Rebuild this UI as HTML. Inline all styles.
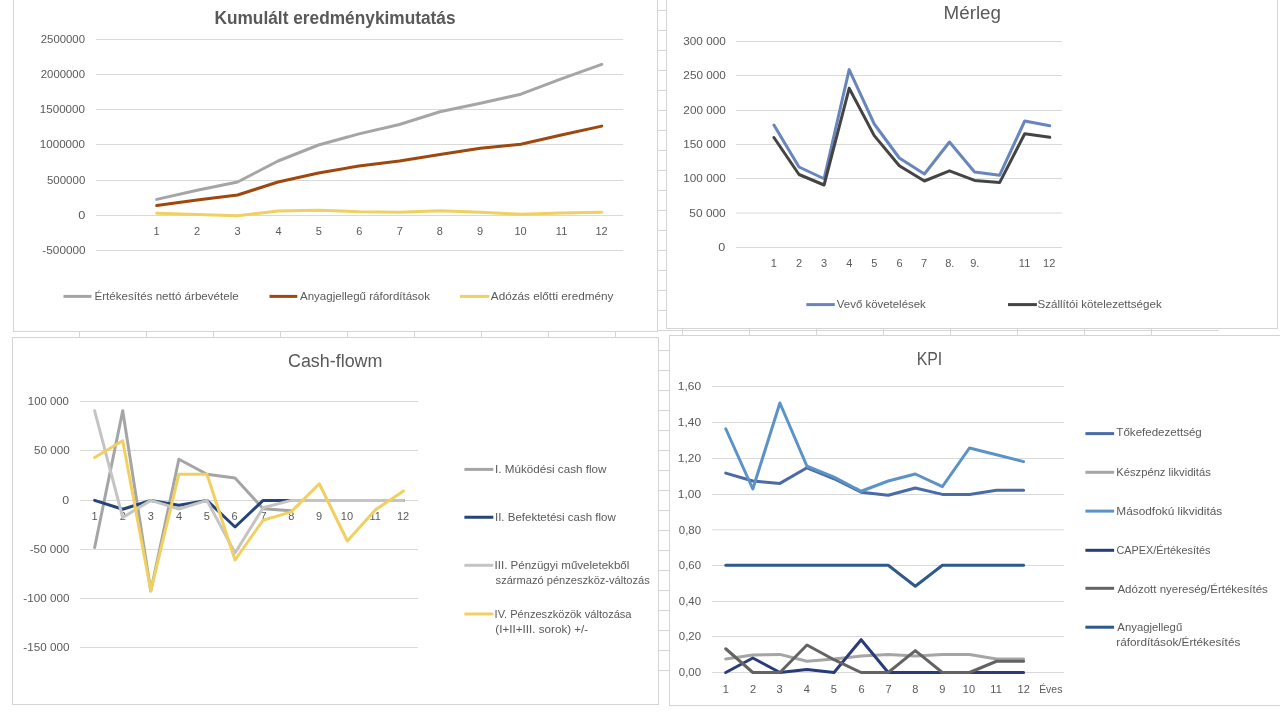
<!DOCTYPE html>
<html><head><meta charset="utf-8"><style>
html,body{margin:0;padding:0;background:#fff;width:1280px;height:720px;overflow:hidden}
svg{display:block}
text{font-family:"Liberation Sans",sans-serif;white-space:pre}
</style></head><body>
<svg width="1280" height="720" viewBox="0 0 1280 720">
<g class="sheet">
<line x1="13" y1="10.5" x2="1218.5" y2="10.5" stroke="#d6d6d6" stroke-width="1"/>
<line x1="13" y1="30.5" x2="1218.5" y2="30.5" stroke="#d6d6d6" stroke-width="1"/>
<line x1="13" y1="50.5" x2="1218.5" y2="50.5" stroke="#d6d6d6" stroke-width="1"/>
<line x1="13" y1="70.5" x2="1218.5" y2="70.5" stroke="#d6d6d6" stroke-width="1"/>
<line x1="13" y1="90.5" x2="1218.5" y2="90.5" stroke="#d6d6d6" stroke-width="1"/>
<line x1="13" y1="110.5" x2="1218.5" y2="110.5" stroke="#d6d6d6" stroke-width="1"/>
<line x1="13" y1="130.5" x2="1218.5" y2="130.5" stroke="#d6d6d6" stroke-width="1"/>
<line x1="13" y1="150.5" x2="1218.5" y2="150.5" stroke="#d6d6d6" stroke-width="1"/>
<line x1="13" y1="170.5" x2="1218.5" y2="170.5" stroke="#d6d6d6" stroke-width="1"/>
<line x1="13" y1="190.5" x2="1218.5" y2="190.5" stroke="#d6d6d6" stroke-width="1"/>
<line x1="13" y1="210.5" x2="1218.5" y2="210.5" stroke="#d6d6d6" stroke-width="1"/>
<line x1="13" y1="230.5" x2="1218.5" y2="230.5" stroke="#d6d6d6" stroke-width="1"/>
<line x1="13" y1="250.5" x2="1218.5" y2="250.5" stroke="#d6d6d6" stroke-width="1"/>
<line x1="13" y1="270.5" x2="1218.5" y2="270.5" stroke="#d6d6d6" stroke-width="1"/>
<line x1="13" y1="290.5" x2="1218.5" y2="290.5" stroke="#d6d6d6" stroke-width="1"/>
<line x1="13" y1="310.5" x2="1218.5" y2="310.5" stroke="#d6d6d6" stroke-width="1"/>
<line x1="13" y1="330.5" x2="1218.5" y2="330.5" stroke="#d6d6d6" stroke-width="1"/>
<line x1="13" y1="350.5" x2="1218.5" y2="350.5" stroke="#d6d6d6" stroke-width="1"/>
<line x1="13" y1="370.5" x2="1218.5" y2="370.5" stroke="#d6d6d6" stroke-width="1"/>
<line x1="13" y1="390.5" x2="1218.5" y2="390.5" stroke="#d6d6d6" stroke-width="1"/>
<line x1="13" y1="410.5" x2="1218.5" y2="410.5" stroke="#d6d6d6" stroke-width="1"/>
<line x1="13" y1="430.5" x2="1218.5" y2="430.5" stroke="#d6d6d6" stroke-width="1"/>
<line x1="13" y1="450.5" x2="1218.5" y2="450.5" stroke="#d6d6d6" stroke-width="1"/>
<line x1="13" y1="470.5" x2="1218.5" y2="470.5" stroke="#d6d6d6" stroke-width="1"/>
<line x1="13" y1="490.5" x2="1218.5" y2="490.5" stroke="#d6d6d6" stroke-width="1"/>
<line x1="13" y1="510.5" x2="1218.5" y2="510.5" stroke="#d6d6d6" stroke-width="1"/>
<line x1="13" y1="530.5" x2="1218.5" y2="530.5" stroke="#d6d6d6" stroke-width="1"/>
<line x1="13" y1="550.5" x2="1218.5" y2="550.5" stroke="#d6d6d6" stroke-width="1"/>
<line x1="13" y1="570.5" x2="1218.5" y2="570.5" stroke="#d6d6d6" stroke-width="1"/>
<line x1="13" y1="590.5" x2="1218.5" y2="590.5" stroke="#d6d6d6" stroke-width="1"/>
<line x1="13" y1="610.5" x2="1218.5" y2="610.5" stroke="#d6d6d6" stroke-width="1"/>
<line x1="13" y1="630.5" x2="1218.5" y2="630.5" stroke="#d6d6d6" stroke-width="1"/>
<line x1="13" y1="650.5" x2="1218.5" y2="650.5" stroke="#d6d6d6" stroke-width="1"/>
<line x1="13" y1="670.5" x2="1218.5" y2="670.5" stroke="#d6d6d6" stroke-width="1"/>
<line x1="79.5" y1="0" x2="79.5" y2="670.5" stroke="#d6d6d6" stroke-width="1"/>
<line x1="146.5" y1="0" x2="146.5" y2="670.5" stroke="#d6d6d6" stroke-width="1"/>
<line x1="213.5" y1="0" x2="213.5" y2="670.5" stroke="#d6d6d6" stroke-width="1"/>
<line x1="280.5" y1="0" x2="280.5" y2="670.5" stroke="#d6d6d6" stroke-width="1"/>
<line x1="347.5" y1="0" x2="347.5" y2="670.5" stroke="#d6d6d6" stroke-width="1"/>
<line x1="414.5" y1="0" x2="414.5" y2="670.5" stroke="#d6d6d6" stroke-width="1"/>
<line x1="481.5" y1="0" x2="481.5" y2="670.5" stroke="#d6d6d6" stroke-width="1"/>
<line x1="548.5" y1="0" x2="548.5" y2="670.5" stroke="#d6d6d6" stroke-width="1"/>
<line x1="615.5" y1="0" x2="615.5" y2="670.5" stroke="#d6d6d6" stroke-width="1"/>
<line x1="682.5" y1="0" x2="682.5" y2="670.5" stroke="#d6d6d6" stroke-width="1"/>
<line x1="749.5" y1="0" x2="749.5" y2="670.5" stroke="#d6d6d6" stroke-width="1"/>
<line x1="816.5" y1="0" x2="816.5" y2="670.5" stroke="#d6d6d6" stroke-width="1"/>
<line x1="883.5" y1="0" x2="883.5" y2="670.5" stroke="#d6d6d6" stroke-width="1"/>
<line x1="950.5" y1="0" x2="950.5" y2="670.5" stroke="#d6d6d6" stroke-width="1"/>
<line x1="1017.5" y1="0" x2="1017.5" y2="670.5" stroke="#d6d6d6" stroke-width="1"/>
<line x1="1084.5" y1="0" x2="1084.5" y2="670.5" stroke="#d6d6d6" stroke-width="1"/>
<line x1="1151.5" y1="0" x2="1151.5" y2="670.5" stroke="#d6d6d6" stroke-width="1"/>
</g>
<rect x="13.5" y="-4.5" width="644" height="336" fill="#fff" stroke="#d4d4d4" stroke-width="1"/>
<rect x="666.5" y="-4.5" width="611" height="333" fill="#fff" stroke="#d4d4d4" stroke-width="1"/>
<rect x="12.5" y="337.5" width="646" height="367" fill="#fff" stroke="#d4d4d4" stroke-width="1"/>
<rect x="669.5" y="335.5" width="621" height="370" fill="#fff" stroke="#d4d4d4" stroke-width="1"/>
<line x1="96" y1="39.5" x2="623" y2="39.5" stroke="#d9d9d9" stroke-width="1"/>
<line x1="96" y1="74.5" x2="623" y2="74.5" stroke="#d9d9d9" stroke-width="1"/>
<line x1="96" y1="109.5" x2="623" y2="109.5" stroke="#d9d9d9" stroke-width="1"/>
<line x1="96" y1="144.5" x2="623" y2="144.5" stroke="#d9d9d9" stroke-width="1"/>
<line x1="96" y1="180.5" x2="623" y2="180.5" stroke="#d9d9d9" stroke-width="1"/>
<line x1="96" y1="215.5" x2="623" y2="215.5" stroke="#d9d9d9" stroke-width="1"/>
<line x1="96" y1="250.5" x2="623" y2="250.5" stroke="#d9d9d9" stroke-width="1"/>
<line x1="63.5" y1="296.4" x2="91.5" y2="296.4" stroke="#a5a5a5" stroke-width="3"/>
<line x1="269.5" y1="296.4" x2="297.3" y2="296.4" stroke="#9e480e" stroke-width="3"/>
<line x1="460" y1="296.4" x2="489.4" y2="296.4" stroke="#f0d060" stroke-width="3"/>
<line x1="736" y1="41.5" x2="1062" y2="41.5" stroke="#d9d9d9" stroke-width="1"/>
<line x1="736" y1="75.5" x2="1062" y2="75.5" stroke="#d9d9d9" stroke-width="1"/>
<line x1="736" y1="110.5" x2="1062" y2="110.5" stroke="#d9d9d9" stroke-width="1"/>
<line x1="736" y1="144.5" x2="1062" y2="144.5" stroke="#d9d9d9" stroke-width="1"/>
<line x1="736" y1="178.5" x2="1062" y2="178.5" stroke="#d9d9d9" stroke-width="1"/>
<line x1="736" y1="213.0" x2="1062" y2="213.0" stroke="#d9d9d9" stroke-width="1"/>
<line x1="736" y1="247.5" x2="1062" y2="247.5" stroke="#d9d9d9" stroke-width="1"/>
<line x1="806.3" y1="304.6" x2="834.8" y2="304.6" stroke="#6886bc" stroke-width="3"/>
<line x1="1008" y1="304.6" x2="1036.9" y2="304.6" stroke="#444444" stroke-width="3"/>
<line x1="80" y1="401.5" x2="418" y2="401.5" stroke="#d9d9d9" stroke-width="1"/>
<line x1="80" y1="450.5" x2="418" y2="450.5" stroke="#d9d9d9" stroke-width="1"/>
<line x1="80" y1="500.5" x2="418" y2="500.5" stroke="#d9d9d9" stroke-width="1"/>
<line x1="80" y1="549.5" x2="418" y2="549.5" stroke="#d9d9d9" stroke-width="1"/>
<line x1="80" y1="598.5" x2="418" y2="598.5" stroke="#d9d9d9" stroke-width="1"/>
<line x1="80" y1="647.5" x2="418" y2="647.5" stroke="#d9d9d9" stroke-width="1"/>
<line x1="464.4" y1="469.4" x2="493.3" y2="469.4" stroke="#a5a5a5" stroke-width="3"/>
<line x1="464.4" y1="517.25" x2="493.3" y2="517.25" stroke="#264478" stroke-width="3"/>
<line x1="464.4" y1="565.3" x2="493.3" y2="565.3" stroke="#c4c4c4" stroke-width="3"/>
<line x1="464.4" y1="614" x2="493.3" y2="614" stroke="#f0d060" stroke-width="3"/>
<line x1="712" y1="386.5" x2="1064" y2="386.5" stroke="#d9d9d9" stroke-width="1"/>
<line x1="712" y1="422.5" x2="1064" y2="422.5" stroke="#d9d9d9" stroke-width="1"/>
<line x1="712" y1="458.5" x2="1064" y2="458.5" stroke="#d9d9d9" stroke-width="1"/>
<line x1="712" y1="494.5" x2="1064" y2="494.5" stroke="#d9d9d9" stroke-width="1"/>
<line x1="712" y1="529.8" x2="1064" y2="529.8" stroke="#d9d9d9" stroke-width="1"/>
<line x1="712" y1="565.5" x2="1064" y2="565.5" stroke="#d9d9d9" stroke-width="1"/>
<line x1="712" y1="601.5" x2="1064" y2="601.5" stroke="#d9d9d9" stroke-width="1"/>
<line x1="712" y1="636.5" x2="1064" y2="636.5" stroke="#d9d9d9" stroke-width="1"/>
<line x1="712" y1="672.5" x2="1064" y2="672.5" stroke="#d9d9d9" stroke-width="1"/>
<line x1="1085.4" y1="433.6" x2="1114.1" y2="433.6" stroke="#4a6ba6" stroke-width="3"/>
<line x1="1085.4" y1="472.3" x2="1114.1" y2="472.3" stroke="#a5a5a5" stroke-width="3"/>
<line x1="1085.4" y1="511.1" x2="1114.1" y2="511.1" stroke="#5b93c8" stroke-width="3"/>
<line x1="1085.4" y1="550.3" x2="1114.1" y2="550.3" stroke="#283c78" stroke-width="3"/>
<line x1="1085.4" y1="588.3" x2="1114.1" y2="588.3" stroke="#636363" stroke-width="3"/>
<line x1="1085.4" y1="627.2" x2="1114.1" y2="627.2" stroke="#2d5a8a" stroke-width="3"/>
<g class="txt" style="will-change:transform">
<text id="t1" x="214.46" y="23.75" font-size="18" font-weight="bold" fill="#595959" text-anchor="start" textLength="241.13" lengthAdjust="spacingAndGlyphs">Kumulált eredménykimutatás</text>
<text id="y1_0" x="40.80" y="43.0" font-size="11" font-weight="normal" fill="#595959" text-anchor="start" textLength="44.18" lengthAdjust="spacingAndGlyphs">2500000</text>
<text id="y1_1" x="40.80" y="78.0" font-size="11" font-weight="normal" fill="#595959" text-anchor="start" textLength="44.18" lengthAdjust="spacingAndGlyphs">2000000</text>
<text id="y1_2" x="39.79" y="113.0" font-size="11" font-weight="normal" fill="#595959" text-anchor="start" textLength="45.19" lengthAdjust="spacingAndGlyphs">1500000</text>
<text id="y1_3" x="39.79" y="148.0" font-size="11" font-weight="normal" fill="#595959" text-anchor="start" textLength="45.19" lengthAdjust="spacingAndGlyphs">1000000</text>
<text id="y1_4" x="46.98" y="184.0" font-size="11" font-weight="normal" fill="#595959" text-anchor="start" textLength="38.31" lengthAdjust="spacingAndGlyphs">500000</text>
<text id="y1_5" x="78.17" y="219.0" font-size="11" font-weight="normal" fill="#595959" text-anchor="start" textLength="7.08" lengthAdjust="spacingAndGlyphs">0</text>
<text id="y1_6" x="42.39" y="254.0" font-size="11" font-weight="normal" fill="#595959" text-anchor="start" textLength="43.24" lengthAdjust="spacingAndGlyphs">-500000</text>
<text id="x1_1" x="156.66" y="235" font-size="11" font-weight="normal" fill="#595959" text-anchor="middle">1</text>
<text id="x1_2" x="197.10" y="235" font-size="11" font-weight="normal" fill="#595959" text-anchor="middle">2</text>
<text id="x1_3" x="237.54" y="235" font-size="11" font-weight="normal" fill="#595959" text-anchor="middle">3</text>
<text id="x1_4" x="278.48" y="235" font-size="11" font-weight="normal" fill="#595959" text-anchor="middle">4</text>
<text id="x1_5" x="318.92" y="235" font-size="11" font-weight="normal" fill="#595959" text-anchor="middle">5</text>
<text id="x1_6" x="359.36" y="235" font-size="11" font-weight="normal" fill="#595959" text-anchor="middle">6</text>
<text id="x1_7" x="399.80" y="235" font-size="11" font-weight="normal" fill="#595959" text-anchor="middle">7</text>
<text id="x1_8" x="439.74" y="235" font-size="11" font-weight="normal" fill="#595959" text-anchor="middle">8</text>
<text id="x1_9" x="480.18" y="235" font-size="11" font-weight="normal" fill="#595959" text-anchor="middle">9</text>
<text id="x1_10" x="520.62" y="235" font-size="11" font-weight="normal" fill="#595959" text-anchor="middle">10</text>
<text id="x1_11" x="561.56" y="235" font-size="11" font-weight="normal" fill="#595959" text-anchor="middle">11</text>
<text id="x1_12" x="601.50" y="235" font-size="11" font-weight="normal" fill="#595959" text-anchor="middle">12</text>
<text id="l1_0" x="94.52" y="299.9" font-size="11" font-weight="normal" fill="#595959" text-anchor="start" textLength="144.17" lengthAdjust="spacingAndGlyphs">Értékesítés nettó árbevétele</text>
<text id="l1_1" x="300.00" y="299.9" font-size="11" font-weight="normal" fill="#595959" text-anchor="start" textLength="130.05" lengthAdjust="spacingAndGlyphs">Anyagjellegű ráfordítások</text>
<text id="l1_2" x="490.81" y="299.9" font-size="11" font-weight="normal" fill="#595959" text-anchor="start" textLength="122.67" lengthAdjust="spacingAndGlyphs">Adózás előtti eredmény</text>
<text id="t2" x="943.58" y="18.75" font-size="18" font-weight="normal" fill="#595959" text-anchor="start" textLength="57.39" lengthAdjust="spacingAndGlyphs">Mérleg</text>
<text id="y2_0" x="683.31" y="45.2" font-size="11" font-weight="normal" fill="#595959" text-anchor="start" textLength="42.49" lengthAdjust="spacingAndGlyphs">300 000</text>
<text id="y2_1" x="683.36" y="79.2" font-size="11" font-weight="normal" fill="#595959" text-anchor="start" textLength="42.44" lengthAdjust="spacingAndGlyphs">250 000</text>
<text id="y2_2" x="683.36" y="114.2" font-size="11" font-weight="normal" fill="#595959" text-anchor="start" textLength="42.44" lengthAdjust="spacingAndGlyphs">200 000</text>
<text id="y2_3" x="683.31" y="148.2" font-size="11" font-weight="normal" fill="#595959" text-anchor="start" textLength="42.49" lengthAdjust="spacingAndGlyphs">150 000</text>
<text id="y2_4" x="683.31" y="182.2" font-size="11" font-weight="normal" fill="#595959" text-anchor="start" textLength="42.49" lengthAdjust="spacingAndGlyphs">100 000</text>
<text id="y2_5" x="689.39" y="216.7" font-size="11" font-weight="normal" fill="#595959" text-anchor="start" textLength="36.32" lengthAdjust="spacingAndGlyphs">50 000</text>
<text id="y2_6" x="718.17" y="251.2" font-size="11" font-weight="normal" fill="#595959" text-anchor="start" textLength="7.00" lengthAdjust="spacingAndGlyphs">0</text>
<text id="x2_1" x="773.88" y="266.9" font-size="11" font-weight="normal" fill="#595959" text-anchor="middle">1</text>
<text id="x2_2" x="799.00" y="266.9" font-size="11" font-weight="normal" fill="#595959" text-anchor="middle">2</text>
<text id="x2_3" x="824.12" y="266.9" font-size="11" font-weight="normal" fill="#595959" text-anchor="middle">3</text>
<text id="x2_4" x="849.24" y="266.9" font-size="11" font-weight="normal" fill="#595959" text-anchor="middle">4</text>
<text id="x2_5" x="874.36" y="266.9" font-size="11" font-weight="normal" fill="#595959" text-anchor="middle">5</text>
<text id="x2_6" x="899.48" y="266.9" font-size="11" font-weight="normal" fill="#595959" text-anchor="middle">6</text>
<text id="x2_7" x="924.10" y="266.9" font-size="11" font-weight="normal" fill="#595959" text-anchor="middle">7</text>
<text id="x2_8" x="949.72" y="266.9" font-size="11" font-weight="normal" fill="#595959" text-anchor="middle">8.</text>
<text id="x2_9" x="974.84" y="266.9" font-size="11" font-weight="normal" fill="#595959" text-anchor="middle">9.</text>
<text id="x2_11" x="1024.58" y="266.9" font-size="11" font-weight="normal" fill="#595959" text-anchor="middle">11</text>
<text id="x2_12" x="1049.20" y="266.9" font-size="11" font-weight="normal" fill="#595959" text-anchor="middle">12</text>
<text id="l2_0" x="836.80" y="307.6" font-size="11" font-weight="normal" fill="#595959" text-anchor="start" textLength="89.05" lengthAdjust="spacingAndGlyphs">Vevő követelések</text>
<text id="l2_1" x="1037.54" y="307.6" font-size="11" font-weight="normal" fill="#595959" text-anchor="start" textLength="124.16" lengthAdjust="spacingAndGlyphs">Szállítói kötelezettségek</text>
<text id="t3" x="287.98" y="366.7" font-size="18" font-weight="normal" fill="#595959" text-anchor="start" textLength="94.47" lengthAdjust="spacingAndGlyphs">Cash-flowm</text>
<text id="y3_0" x="27.85" y="405.1" font-size="11" font-weight="normal" fill="#595959" text-anchor="start" textLength="40.99" lengthAdjust="spacingAndGlyphs">100 000</text>
<text id="y3_1" x="34.02" y="454.1" font-size="11" font-weight="normal" fill="#595959" text-anchor="start" textLength="35.68" lengthAdjust="spacingAndGlyphs">50 000</text>
<text id="y3_2" x="62.26" y="504.1" font-size="11" font-weight="normal" fill="#595959" text-anchor="start" textLength="6.88" lengthAdjust="spacingAndGlyphs">0</text>
<text id="y3_3" x="29.68" y="553.1" font-size="11" font-weight="normal" fill="#595959" text-anchor="start" textLength="39.66" lengthAdjust="spacingAndGlyphs">-50 000</text>
<text id="y3_4" x="23.38" y="602.1" font-size="11" font-weight="normal" fill="#595959" text-anchor="start" textLength="46.10" lengthAdjust="spacingAndGlyphs">-100 000</text>
<text id="y3_5" x="23.38" y="651.1" font-size="11" font-weight="normal" fill="#595959" text-anchor="start" textLength="46.10" lengthAdjust="spacingAndGlyphs">-150 000</text>
<text id="x3_0" x="94.56" y="519.8" font-size="11" font-weight="normal" fill="#595959" text-anchor="middle">1</text>
<text id="x3_1" x="122.88" y="519.8" font-size="11" font-weight="normal" fill="#595959" text-anchor="middle">2</text>
<text id="x3_2" x="150.70" y="519.8" font-size="11" font-weight="normal" fill="#595959" text-anchor="middle">3</text>
<text id="x3_3" x="179.02" y="519.8" font-size="11" font-weight="normal" fill="#595959" text-anchor="middle">4</text>
<text id="x3_4" x="206.84" y="519.8" font-size="11" font-weight="normal" fill="#595959" text-anchor="middle">5</text>
<text id="x3_5" x="234.66" y="519.8" font-size="11" font-weight="normal" fill="#595959" text-anchor="middle">6</text>
<text id="x3_6" x="263.48" y="519.8" font-size="11" font-weight="normal" fill="#595959" text-anchor="middle">7</text>
<text id="x3_7" x="291.30" y="519.8" font-size="11" font-weight="normal" fill="#595959" text-anchor="middle">8</text>
<text id="x3_8" x="319.12" y="519.8" font-size="11" font-weight="normal" fill="#595959" text-anchor="middle">9</text>
<text id="x3_9" x="346.94" y="519.8" font-size="11" font-weight="normal" fill="#595959" text-anchor="middle">10</text>
<text id="x3_10" x="375.26" y="519.8" font-size="11" font-weight="normal" fill="#595959" text-anchor="middle">11</text>
<text id="x3_11" x="403.08" y="519.8" font-size="11" font-weight="normal" fill="#595959" text-anchor="middle">12</text>
<text id="l3_0" x="494.97" y="472.75" font-size="11" font-weight="normal" fill="#595959" text-anchor="start" textLength="111.48" lengthAdjust="spacingAndGlyphs">I. Múködési cash flow</text>
<text id="l3_1" x="494.98" y="520.6" font-size="11" font-weight="normal" fill="#595959" text-anchor="start" textLength="120.84" lengthAdjust="spacingAndGlyphs">II. Befektetési cash flow</text>
<text id="l3_2" x="494.55" y="569" font-size="11" font-weight="normal" fill="#595959" text-anchor="start" textLength="134.76" lengthAdjust="spacingAndGlyphs">III. Pénzügyi műveletekből</text>
<text id="l3_3" x="495.58" y="584.4" font-size="11" font-weight="normal" fill="#595959" text-anchor="start" textLength="154.18" lengthAdjust="spacingAndGlyphs">származó pénzeszköz-változás</text>
<text id="l3_4" x="494.59" y="618" font-size="11" font-weight="normal" fill="#595959" text-anchor="start" textLength="136.96" lengthAdjust="spacingAndGlyphs">IV. Pénzeszközök változása</text>
<text id="l3_5" x="495.35" y="632.5" font-size="11" font-weight="normal" fill="#595959" text-anchor="start" textLength="92.91" lengthAdjust="spacingAndGlyphs">(I+II+III. sorok) +/-</text>
<text id="t4" x="916.71" y="364.8" font-size="18" font-weight="normal" fill="#595959" text-anchor="start" textLength="25.58" lengthAdjust="spacingAndGlyphs">KPI</text>
<text id="y4_0" x="677.83" y="390.2" font-size="11" font-weight="normal" fill="#595959" text-anchor="start" textLength="23.27" lengthAdjust="spacingAndGlyphs">1,60</text>
<text id="y4_1" x="677.83" y="426.2" font-size="11" font-weight="normal" fill="#595959" text-anchor="start" textLength="23.27" lengthAdjust="spacingAndGlyphs">1,40</text>
<text id="y4_2" x="677.83" y="462.2" font-size="11" font-weight="normal" fill="#595959" text-anchor="start" textLength="23.27" lengthAdjust="spacingAndGlyphs">1,20</text>
<text id="y4_3" x="677.83" y="498.2" font-size="11" font-weight="normal" fill="#595959" text-anchor="start" textLength="23.27" lengthAdjust="spacingAndGlyphs">1,00</text>
<text id="y4_4" x="678.83" y="533.5" font-size="11" font-weight="normal" fill="#595959" text-anchor="start" textLength="22.23" lengthAdjust="spacingAndGlyphs">0,80</text>
<text id="y4_5" x="678.83" y="569.2" font-size="11" font-weight="normal" fill="#595959" text-anchor="start" textLength="22.23" lengthAdjust="spacingAndGlyphs">0,60</text>
<text id="y4_6" x="678.83" y="605.2" font-size="11" font-weight="normal" fill="#595959" text-anchor="start" textLength="22.23" lengthAdjust="spacingAndGlyphs">0,40</text>
<text id="y4_7" x="678.83" y="640.2" font-size="11" font-weight="normal" fill="#595959" text-anchor="start" textLength="22.23" lengthAdjust="spacingAndGlyphs">0,20</text>
<text id="y4_8" x="678.83" y="676.2" font-size="11" font-weight="normal" fill="#595959" text-anchor="start" textLength="22.23" lengthAdjust="spacingAndGlyphs">0,00</text>
<text id="x4_0" x="725.86" y="692.6" font-size="11" font-weight="normal" fill="#595959" text-anchor="middle">1</text>
<text id="x4_1" x="752.98" y="692.6" font-size="11" font-weight="normal" fill="#595959" text-anchor="middle">2</text>
<text id="x4_2" x="779.60" y="692.6" font-size="11" font-weight="normal" fill="#595959" text-anchor="middle">3</text>
<text id="x4_3" x="806.72" y="692.6" font-size="11" font-weight="normal" fill="#595959" text-anchor="middle">4</text>
<text id="x4_4" x="833.84" y="692.6" font-size="11" font-weight="normal" fill="#595959" text-anchor="middle">5</text>
<text id="x4_5" x="861.46" y="692.6" font-size="11" font-weight="normal" fill="#595959" text-anchor="middle">6</text>
<text id="x4_6" x="888.58" y="692.6" font-size="11" font-weight="normal" fill="#595959" text-anchor="middle">7</text>
<text id="x4_7" x="915.20" y="692.6" font-size="11" font-weight="normal" fill="#595959" text-anchor="middle">8</text>
<text id="x4_8" x="942.32" y="692.6" font-size="11" font-weight="normal" fill="#595959" text-anchor="middle">9</text>
<text id="x4_9" x="968.94" y="692.6" font-size="11" font-weight="normal" fill="#595959" text-anchor="middle">10</text>
<text id="x4_10" x="996.06" y="692.6" font-size="11" font-weight="normal" fill="#595959" text-anchor="middle">11</text>
<text id="x4_11" x="1023.68" y="692.6" font-size="11" font-weight="normal" fill="#595959" text-anchor="middle">12</text>
<text id="x4_12" x="1039.16" y="692.6" font-size="11" font-weight="normal" fill="#595959" text-anchor="start" textLength="23.21" lengthAdjust="spacingAndGlyphs">Éves</text>
<text id="l4_0" x="1116.38" y="436.4" font-size="11" font-weight="normal" fill="#595959" text-anchor="start" textLength="85.40" lengthAdjust="spacingAndGlyphs">Tőkefedezettség</text>
<text id="l4_1" x="1116.37" y="475.5" font-size="11" font-weight="normal" fill="#595959" text-anchor="start" textLength="94.40" lengthAdjust="spacingAndGlyphs">Készpénz likviditás</text>
<text id="l4_2" x="1116.32" y="514.5" font-size="11" font-weight="normal" fill="#595959" text-anchor="start" textLength="105.98" lengthAdjust="spacingAndGlyphs">Másodfokú likviditás</text>
<text id="l4_3" x="1116.40" y="553.7" font-size="11" font-weight="normal" fill="#595959" text-anchor="start" textLength="94.07" lengthAdjust="spacingAndGlyphs">CAPEX/Értékesítés</text>
<text id="l4_4" x="1117.40" y="592.5" font-size="11" font-weight="normal" fill="#595959" text-anchor="start" textLength="150.43" lengthAdjust="spacingAndGlyphs">Adózott nyereség/Értékesítés</text>
<text id="l4_5" x="1117.39" y="630.8" font-size="11" font-weight="normal" fill="#595959" text-anchor="start" textLength="64.83" lengthAdjust="spacingAndGlyphs">Anyagjellegű</text>
<text id="l4_6" x="1116.33" y="645.8" font-size="11" font-weight="normal" fill="#595959" text-anchor="start" textLength="123.96" lengthAdjust="spacingAndGlyphs">ráfordítások/Értékesítés</text>
</g>
<polyline class="ln" points="156.69,199.40 197.15,190.30 237.61,182.00 278.07,161.00 318.53,145.00 358.99,133.90 399.45,124.50 439.91,111.70 480.37,103.30 520.83,94.20 561.29,78.90 601.75,64.40" fill="none" stroke="#a5a5a5" stroke-width="3" stroke-linejoin="round" stroke-linecap="round"/>
<polyline class="ln" points="156.69,205.60 197.15,200.00 237.61,195.00 278.07,182.00 318.53,173.00 358.99,166.00 399.45,161.00 439.91,154.40 480.37,148.30 520.83,144.20 561.29,135.00 601.75,126.10" fill="none" stroke="#9e480e" stroke-width="3" stroke-linejoin="round" stroke-linecap="round"/>
<polyline class="ln" points="156.69,213.30 197.15,214.40 237.61,215.80 278.07,211.00 318.53,210.30 358.99,211.70 399.45,212.20 439.91,210.80 480.37,212.20 520.83,214.20 561.29,213.00 601.75,212.20" fill="none" stroke="#f0d060" stroke-width="3" stroke-linejoin="round" stroke-linecap="round"/>
<polyline class="ln" points="773.92,125.00 799.00,167.00 824.08,178.75 849.16,69.60 874.24,124.00 899.32,158.00 924.40,174.00 949.48,142.00 974.56,172.00 999.64,175.20 1024.72,121.00 1049.80,125.70" fill="none" stroke="#6886bc" stroke-width="3" stroke-linejoin="round" stroke-linecap="round"/>
<polyline class="ln" points="773.92,137.50 799.00,174.50 824.08,185.00 849.16,88.30 874.24,135.60 899.32,165.70 924.40,181.00 949.48,170.80 974.56,180.40 999.64,182.60 1024.72,133.70 1049.80,137.20" fill="none" stroke="#444444" stroke-width="3" stroke-linejoin="round" stroke-linecap="round"/>
<polyline class="ln" points="94.64,547.50 122.72,410.80 150.80,591.00 178.88,459.20 206.96,474.20 235.04,478.00 263.12,508.75 291.20,510.80" fill="none" stroke="#a5a5a5" stroke-width="3" stroke-linejoin="round" stroke-linecap="round"/>
<polyline class="ln" points="94.64,500.40 122.72,509.20 150.80,500.40 178.88,505.30 206.96,500.40 235.04,527.00 263.12,500.40 291.20,500.40 319.28,500.40 347.36,500.40 375.44,500.40 403.52,500.40" fill="none" stroke="#264478" stroke-width="3" stroke-linejoin="round" stroke-linecap="round"/>
<polyline class="ln" points="94.64,410.80 122.72,517.50 150.80,500.40 178.88,509.00 206.96,500.40 235.04,553.00 263.12,507.70 291.20,500.40 319.28,500.40 347.36,500.40 375.44,500.40 403.52,500.40" fill="none" stroke="#c4c4c4" stroke-width="3" stroke-linejoin="round" stroke-linecap="round"/>
<polyline class="ln" points="94.64,457.50 122.72,440.80 150.80,590.80 178.88,474.20 206.96,474.20 235.04,560.00 263.12,520.20 291.20,511.90 319.28,483.75 347.36,541.00 375.44,509.80 403.52,491.00" fill="none" stroke="#f0d060" stroke-width="3" stroke-linejoin="round" stroke-linecap="round"/>
<polyline class="ln" points="725.74,473.10 752.82,481.00 779.90,483.40 806.98,467.80 834.06,478.75 861.14,492.20 888.22,495.30 915.30,488.00 942.38,494.40 969.46,494.40 996.54,490.30 1023.62,490.30" fill="none" stroke="#4a6ba6" stroke-width="3" stroke-linejoin="round" stroke-linecap="round"/>
<polyline class="ln" points="725.74,659.00 752.82,655.00 779.90,654.40 806.98,661.25 834.06,659.00 861.14,656.00 888.22,654.40 915.30,656.00 942.38,654.40 969.46,654.40 996.54,659.00 1023.62,659.00" fill="none" stroke="#a5a5a5" stroke-width="3" stroke-linejoin="round" stroke-linecap="round"/>
<polyline class="ln" points="725.74,428.75 752.82,489.00 779.90,403.00 806.98,466.25 834.06,477.20 861.14,491.25 888.22,481.00 915.30,474.00 942.38,486.60 969.46,448.00 996.54,454.70 1023.62,461.60" fill="none" stroke="#5b93c8" stroke-width="3" stroke-linejoin="round" stroke-linecap="round"/>
<polyline class="ln" points="725.74,672.50 752.82,658.00 779.90,672.50 806.98,669.40 834.06,672.50 861.14,639.70 888.22,672.50 915.30,672.50 942.38,672.50 969.46,672.50 996.54,672.50 1023.62,672.50" fill="none" stroke="#283c78" stroke-width="3" stroke-linejoin="round" stroke-linecap="round"/>
<polyline class="ln" points="725.74,648.75 752.82,672.50 779.90,672.50 806.98,645.00 834.06,659.70 861.14,672.50 888.22,672.50 915.30,650.60 942.38,672.50 969.46,672.50 996.54,661.25 1023.62,661.25" fill="none" stroke="#636363" stroke-width="3" stroke-linejoin="round" stroke-linecap="round"/>
<polyline class="ln" points="725.74,565.30 752.82,565.30 779.90,565.30 806.98,565.30 834.06,565.30 861.14,565.30 888.22,565.30 915.30,586.25 942.38,565.30 969.46,565.30 996.54,565.30 1023.62,565.30" fill="none" stroke="#2d5a8a" stroke-width="3" stroke-linejoin="round" stroke-linecap="round"/>
</svg></body></html>
